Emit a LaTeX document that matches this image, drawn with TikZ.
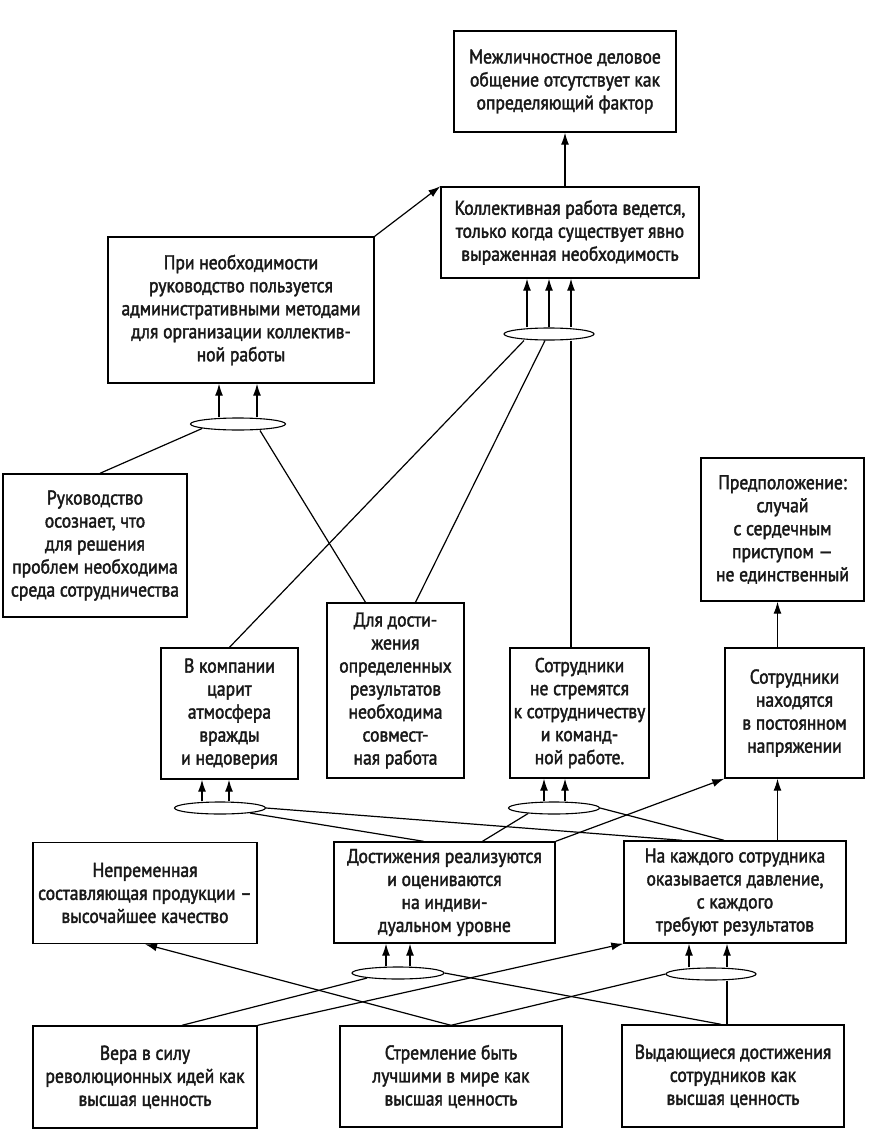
\documentclass[tikz,border=0pt]{standalone}
\usepackage{fontspec}
\setmainfont{PT Sans}[FakeStretch=0.88, FakeBold=2]
\usepackage{tikz}
\usetikzlibrary{shapes.geometric, arrows.meta}
\newcommand{\diagfont}{\fontsize{20}{23}\selectfont}

\begin{document}
\begin{tikzpicture}[x=1pt, y=-1pt,
    box/.style={rectangle, draw=black, line width=1.4pt, align=center,
                inner sep=1pt, font=\diagfont, text=black!90},
    andnode/.style={ellipse, draw=black, line width=1.1pt, inner sep=0pt,
                minimum height=12pt},
    arr/.style={-{Latex[length=12pt, width=8pt]}, line width=1.2pt},
    conn/.style={line width=1.2pt},
]
    \fill[white] (0,0) rectangle (891,1142);
    \useasboundingbox (0,0) rectangle (891,1142);

    % upper part
    \node[box, minimum width=222pt, minimum height=101pt] (top) at (565,81.5)
        {Межличностное деловое\\общение отсутствует как\\определяющий фактор};
    \node[box, minimum width=258pt, minimum height=91pt] (kollekt) at (570,232.5)
        {Коллективная работа ведется,\\только когда существует явно\\выраженная необходимость};
    \node[box, minimum width=266pt, minimum height=146pt] (admin) at (241,310)
        {При необходимости\\руководство пользуется\\административными методами\\для организации коллектив-\\ной работы};
    \node[box, minimum width=184pt, minimum height=143pt] (rukov) at (95,545.5)
        {Руководство\\осознает, что\\для решения\\проблем необходима\\среда сотрудничества};
    \node[box, minimum width=163pt, minimum height=143pt] (predp) at (782.5,529.5)
        {Предположение:\\случай\\с сердечным\\приступом —\\не единственный};

    % middle row
    \node[box, minimum width=137pt, minimum height=131pt] (vrazhda) at (229.5,713.5)
        {В компании\\царит\\атмосфера\\вражды\\и недоверия};
    \node[box, minimum width=137pt, minimum height=175pt] (sovmest) at (395.5,690.5)
        {Для дости-\\жения\\определенных\\результатов\\необходима\\совмест-\\ная работа};
    \node[box, minimum width=139pt, minimum height=130pt] (nestrem) at (579.5,713)
        {Сотрудники\\не стремятся\\к сотрудничеству\\и команд-\\ной работе.};
    \node[box, minimum width=139pt, minimum height=130pt] (napryazh) at (794.5,713)
        {Сотрудники\\находятся\\в постоянном\\напряжении};

    % lower rows
    \node[box, minimum width=224pt, minimum height=101pt] (kachestvo) at (145,893)
        {Непременная\\составляющая продукции –\\высочайшее качество};
    \node[box, minimum width=221pt, minimum height=101pt] (individ) at (444.5,892.5)
        {Достижения реализуются\\и оцениваются\\на индиви-\\дуальном уровне};
    \node[box, minimum width=222pt, minimum height=102pt] (davlenie) at (735,892)
        {На каждого сотрудника\\оказывается давление,\\с каждого\\требуют результатов};
    \node[box, minimum width=224pt, minimum height=102pt] (revol) at (145,1077)
        {Вера в силу\\революционных идей как\\высшая ценность};
    \node[box, minimum width=222pt, minimum height=101pt] (luchshie) at (451,1076.5)
        {Стремление быть\\лучшими в мире как\\высшая ценность};
    \node[box, minimum width=222pt, minimum height=102pt] (vydayusch) at (733,1076)
        {Выдающиеся достижения\\сотрудников как\\высшая ценность};

    % sufficiency ellipses
    \node[andnode, minimum width=90pt] (e1) at (549,334) {};
    \node[andnode, minimum width=95pt] (e2) at (238,424) {};
    \node[andnode, minimum width=91pt] (e3) at (220,808) {};
    \node[andnode, minimum width=91pt] (e4) at (554,808) {};
    \node[andnode, minimum width=92pt] (e5) at (398,973) {};
    \node[andnode, minimum width=90pt] (e6) at (711,974) {};

    \draw[arr] (kollekt.north -| top.south) -- (top.south);
    \draw[arr] (admin.north east) -- (kollekt.north west);

    \draw[arr] ([xshift=-22pt]e1.north) -- ([xshift=-22pt]e1.north |- kollekt.south);
    \draw[arr] (e1.north) -- (e1.north |- kollekt.south);
    \draw[arr] ([xshift=22pt]e1.north) -- ([xshift=22pt]e1.north |- kollekt.south);
    \draw[conn] (vrazhda.north) -- ([xshift=-25pt]e1.south);
    \draw[conn] ([xshift=20pt]sovmest.north) -- ([xshift=-4pt]e1.south);
    \draw[conn] ([xshift=22pt]e1.south) -- ([xshift=22pt]e1.south |- nestrem.north);

    \draw[arr] ([xshift=-19pt]e2.north) -- ([xshift=-19pt]e2.north |- admin.south);
    \draw[arr] ([xshift=19pt]e2.north) -- ([xshift=19pt]e2.north |- admin.south);
    \draw[conn] ([xshift=5pt]rukov.north) -- ([xshift=-36pt, yshift=2pt]e2.south);
    \draw[conn] ([xshift=-30pt]sovmest.north) -- ([xshift=22pt]e2.south);

    \draw[arr] ([xshift=-17pt]napryazh.north) -- ([xshift=-17pt]napryazh.north |- predp.south);

    \draw[arr] ([xshift=-18pt]e3.north) -- ([xshift=-18pt]e3.north |- vrazhda.south);
    \draw[arr] ([xshift=9pt]e3.north) -- ([xshift=9pt]e3.north |- vrazhda.south);
    \draw[conn] ([xshift=-21pt]individ.north) -- ([xshift=30pt, yshift=1.5pt]e3.south);
    \draw[conn] ([xshift=-53pt]davlenie.north) -- (e3.east);

    \draw[arr] ([xshift=-10pt]e4.north) -- ([xshift=-10pt]e4.north |- nestrem.south);
    \draw[arr] ([xshift=11pt]e4.north) -- ([xshift=11pt]e4.north |- nestrem.south);
    \draw[conn] ([xshift=38pt]individ.north) -- ([xshift=-26pt, yshift=1pt]e4.south);
    \draw[conn] ([xshift=-11pt]davlenie.north) -- (e4.east);

    \draw[arr] (individ.north east) -- (napryazh.south west);
    \draw[arr] ([xshift=-17pt]napryazh.south |- davlenie.north) -- ([xshift=-17pt]napryazh.south);

    \draw[arr] ([xshift=-12pt]e5.north) -- ([xshift=-12pt]e5.north |- individ.south);
    \draw[arr] ([xshift=12pt]e5.north) -- ([xshift=12pt]e5.north |- individ.south);
    \draw[conn] ([xshift=37pt]revol.north) -- ([xshift=-31pt, yshift=1.5pt]e5.south);
    \draw[conn] (e5.east) -- ([xshift=-12pt]vydayusch.north);

    \draw[arr] ([xshift=-22pt]e6.north) -- ([xshift=-22pt]e6.north |- davlenie.south);
    \draw[arr] ([xshift=16pt]e6.north) -- ([xshift=16pt]e6.north |- davlenie.south);
    \draw[conn] (luchshie.north) -- (e6.west);
    \draw[conn] ([xshift=16pt]e6.south) -- ([xshift=16pt]e6.south |- vydayusch.north);

    \draw[arr] (luchshie.north) -- (kachestvo.south);
    \draw[arr] (revol.north east) -- (davlenie.south west);
\end{tikzpicture}
\end{document}
